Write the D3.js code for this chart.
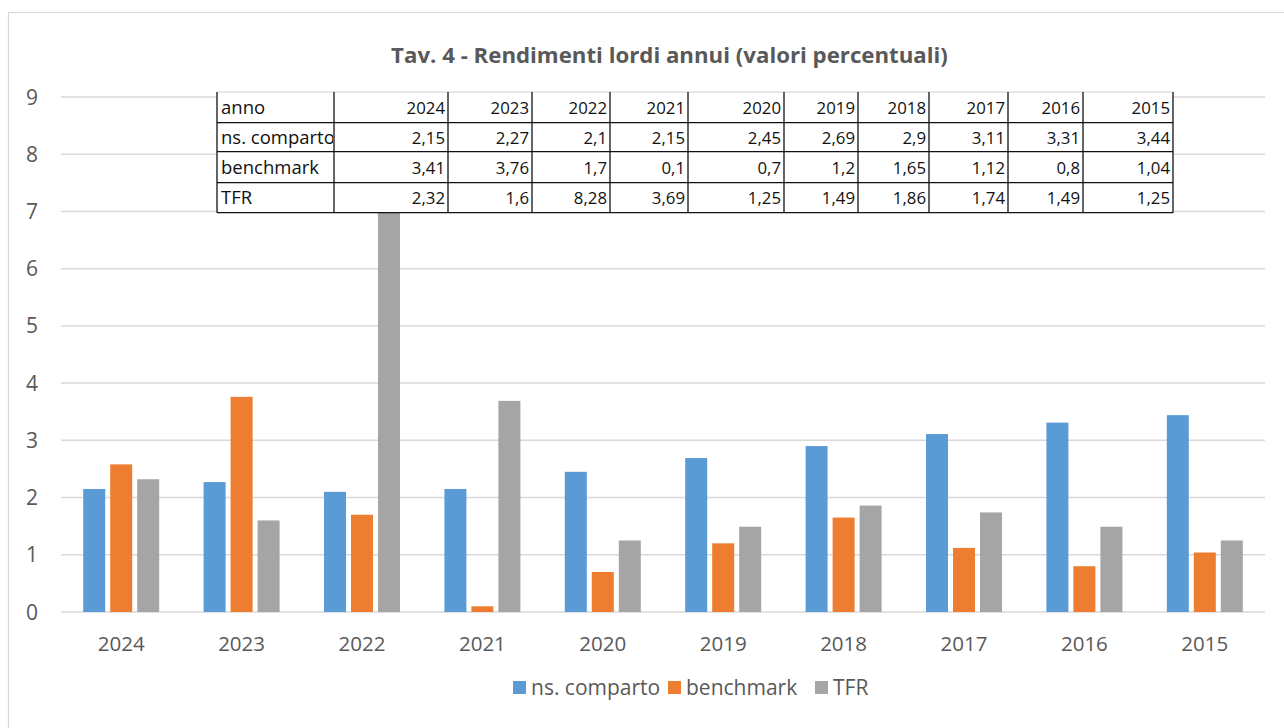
<!DOCTYPE html>
<html><head><meta charset="utf-8">
<script src="https://cdn.jsdelivr.net/npm/d3@7"></script>
<style>body{margin:0;background:#fff;} svg{display:block;font-family:'Open Sans',sans-serif;}</style>
</head><body><svg id="c" width="1284" height="728"></svg>
<script>
// ---------- data ----------
const years = ["2024","2023","2022","2021","2020","2019","2018","2017","2016","2015"];
const seriesNames = ["ns. comparto","benchmark","TFR"];
const comparto  = [2.15,2.27,2.1,2.15,2.45,2.69,2.9,3.11,3.31,3.44];
const benchmark = [2.58,3.76,1.7,0.1,0.7,1.2,1.65,1.12,0.8,1.04];   // as drawn in the bars
const tfr       = [2.32,1.6,8.28,3.69,1.25,1.49,1.86,1.74,1.49,1.25];
const tableBenchmark = [3.41,3.76,1.7,0.1,0.7,1.2,1.65,1.12,0.8,1.04]; // as printed in the table
const yTicks = [0,1,2,3,4,5,6,7,8,9];
const titleText = "Tav. 4 - Rendimenti lordi annui (valori percentuali)";
const tableHeader = "anno";

// ---------- layout ----------
const plot = {left:61, right:1265, top:97, bottom:612};
const colors = ["#5B9BD5","#ED7D31","#A5A5A5"];
const svg = d3.select("#c");

svg.append("rect").attr("x",8.5).attr("y",12.5).attr("width",1290).attr("height",740)
  .attr("fill","#fff").attr("stroke","#D9D9D9").attr("stroke-width",1.2);

const x0 = d3.scaleBand().domain(years).range([plot.left, plot.right]);
const groupW = 76;
const x1 = d3.scaleBand().domain(seriesNames).range([-groupW/2, groupW/2]).paddingInner(5/27);
const y = d3.scaleLinear().domain([0,9]).range([plot.bottom, plot.top]);

// gridlines
svg.append("g").selectAll("line").data(yTicks).join("line")
  .attr("x1",plot.left).attr("x2",plot.right)
  .attr("y1",d=>y(d)).attr("y2",d=>y(d))
  .attr("stroke","#D9D9D9").attr("stroke-width",1.5);

// bars
const seriesVals = [comparto, benchmark, tfr];
const barData = [];
years.forEach((yr,i)=>seriesNames.forEach((s,j)=>barData.push({yr, s, j, v:seriesVals[j][i]})));
svg.append("g").selectAll("rect").data(barData).join("rect")
  .attr("x",d=>x0(d.yr)+x0.bandwidth()/2+x1(d.s))
  .attr("width",x1.bandwidth())
  .attr("y",d=>y(d.v))
  .attr("height",d=>y(0)-y(d.v))
  .attr("fill",d=>colors[d.j]);

// y labels
svg.append("g").selectAll("text").data(yTicks).join("text")
  .attr("x",38).attr("y",d=>y(d)).attr("dy","0.36em")
  .attr("text-anchor","end").attr("font-size",21).attr("fill","#595959")
  .text(d=>d);

// x labels
svg.append("g").selectAll("text").data(years).join("text")
  .attr("x",d=>x0(d)+x0.bandwidth()/2).attr("y",651)
  .attr("text-anchor","middle").attr("font-size",20.5).attr("fill","#595959")
  .text(d=>d);

// title
const t = svg.append("text").attr("x",669.5).attr("y",63).attr("text-anchor","middle")
  .attr("font-size",18).attr("font-weight","bold").attr("fill","#595959").text(titleText);
function fitWidth(sel, target){
  const w = sel.node().getComputedTextLength();
  sel.attr("font-size", parseFloat(sel.attr("font-size"))*target/w);
}
fitWidth(t, 557);

// ---------- table ----------
const colEdges = [217,334,448,532,610,688,784,858,929,1008,1083,1173];
const rowEdges = [92,122.7,151.7,182.7,212.7];
const fmt = v => String(v).replace(".", ",");
const rows = [
  [tableHeader, ...years],
  [seriesNames[0], ...comparto.map(fmt)],
  [seriesNames[1], ...tableBenchmark.map(fmt)],
  [seriesNames[2], ...tfr.map(fmt)]
];
const tg = svg.append("g");
tg.append("rect").attr("x",colEdges[0]).attr("y",rowEdges[0])
  .attr("width",colEdges[colEdges.length-1]-colEdges[0]).attr("height",rowEdges[4]-rowEdges[0])
  .attr("fill","#fff");
svg.append("defs").append("clipPath").attr("id","firstcol").append("rect")
  .attr("x",colEdges[0]).attr("y",rowEdges[0]).attr("width",colEdges[1]-colEdges[0]-1).attr("height",rowEdges[4]-rowEdges[0]);
tg.append("line").attr("x1",colEdges[0]).attr("x2",colEdges[colEdges.length-1])
  .attr("y1",rowEdges[0]).attr("y2",rowEdges[0]).attr("stroke","#D0D0D0").attr("stroke-width",1);
tg.selectAll("line.h").data(rowEdges.slice(1)).join("line").attr("class","h")
  .attr("x1",colEdges[0]).attr("x2",colEdges[colEdges.length-1])
  .attr("y1",d=>d).attr("y2",d=>d).attr("stroke","#111").attr("stroke-width",1.3);
tg.selectAll("line.v").data(colEdges).join("line").attr("class","v")
  .attr("x1",d=>d).attr("x2",d=>d)
  .attr("y1",rowEdges[0]).attr("y2",rowEdges[4]).attr("stroke","#111").attr("stroke-width",1.3);
const baselines = [114,144,174,204];
rows.forEach((r,ri)=>{
  tg.append("text").attr("x",colEdges[0]+4).attr("y",baselines[ri])
    .attr("font-size",18.5).attr("fill","#111").attr("clip-path","url(#firstcol)").text(r[0]);
  r.slice(1).forEach((cell,ci)=>{
    tg.append("text").attr("x",colEdges[ci+2]-3).attr("y",baselines[ri])
      .attr("text-anchor","end").attr("font-size",16.8).attr("fill","#111").text(cell);
  });
});

// ---------- legend ----------
const legStarts = [513,668,815];
const lg = svg.append("g");
seriesNames.forEach((s,i)=>{
  lg.append("rect").attr("x",legStarts[i]).attr("y",681).attr("width",13).attr("height",13).attr("fill",colors[i]);
  lg.append("text").attr("x",legStarts[i]+18).attr("y",695).attr("font-size",21).attr("fill","#595959").text(s);
});
</script>
</body></html>
